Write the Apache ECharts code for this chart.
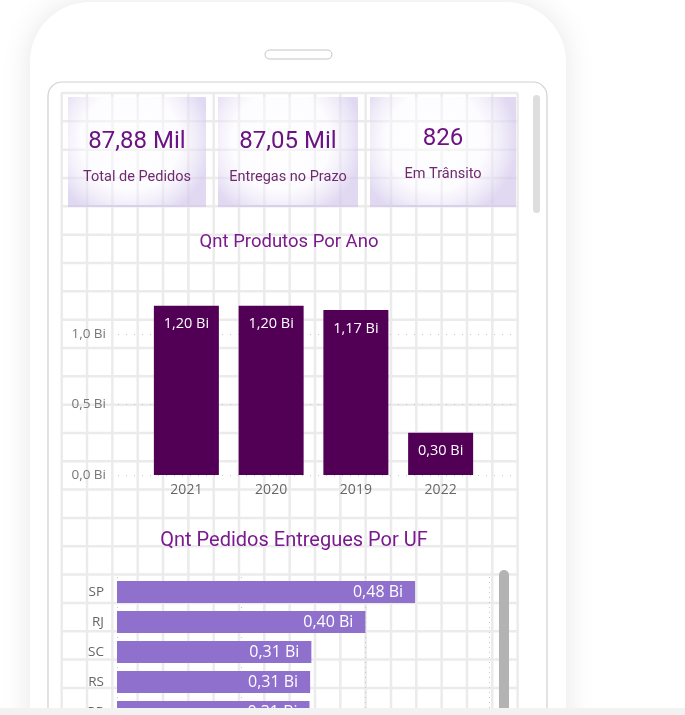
<!DOCTYPE html>
<html>
<head>
<meta charset="utf-8">
<style>
html,body{margin:0;padding:0;background:#fff;}
#main{width:685px;height:715px;}
</style>
<script src="https://cdn.jsdelivr.net/npm/echarts@6/dist/echarts.min.js"></script>
</head>
<body>
<div id="main"></div>
<script>
// ---- data ----
const kpiValues = ['87,88 Mil', '87,05 Mil', '826'];
const kpiLabels = ['Total de Pedidos', 'Entregas no Prazo', 'Em Trânsito'];
const anoTitle = 'Qnt Produtos Por Ano';
const anos = ['2021', '2020', '2019', '2022'];
const produtosBi = [1.20, 1.20, 1.17, 0.30];
const ufTitle = 'Qnt Pedidos Entregues Por UF';
const ufs = ['SP', 'RJ', 'SC', 'RS', 'PR'];
const pedidosBi = [0.48, 0.40, 0.313, 0.311, 0.31];

const fmtBi = v => v.toFixed(2).replace('.', ',') + ' Bi';
const axisFont = "'Open Sans', 'Noto Sans', sans-serif";
const titleFont = "Roboto, 'Noto Sans', sans-serif";

// ---- decorative layout ----
const g = [];
// phone body
g.push({type:'rect', z:0, shape:{x:30,y:2,width:536,height:820,r:60},
  style:{fill:'#fff', shadowBlur:30, shadowColor:'rgba(0,0,0,0.10)'}});
// speaker
g.push({type:'rect', z:1, shape:{x:265,y:50,width:67,height:9,r:4.5},
  style:{fill:'#fff', stroke:'#c4c4c4', lineWidth:1}});
// screen bezel
g.push({type:'rect', z:1, shape:{x:48,y:82,width:499,height:700,r:14},
  style:{fill:'#fff', stroke:'#d0d0d0', lineWidth:1.2}});
// background grid of canvas
for (let k = 0; k <= 18; k++) {
  const x = 61.7 + k * 25.33;
  g.push({type:'line', z:2, shape:{x1:x,y1:93,x2:x,y2:715}, style:{stroke:'#ebebeb', lineWidth:2.5}});
}
for (let k = 0; k <= 22; k++) {
  const y = 93 + k * 28.33;
  g.push({type:'line', z:2, shape:{x1:61,y1:y,x2:518,y2:y}, style:{stroke:'#ebebeb', lineWidth:2.5}});
}
// KPI cards
const cards = [[68,97,138,109],[218,97,140,109],[370,97,146,109]];
cards.forEach((c, i) => {
  g.push({type:'rect', z:3, shape:{x:c[0],y:c[1],width:c[2],height:c[3]},
    style:{fill:{type:'radial', x:0.45, y:0.4, r:0.75, colorStops:[
      {offset:0, color:'rgba(255,255,255,0.6)'},
      {offset:0.6, color:'rgba(250,248,254,0.45)'},
      {offset:1, color:'rgba(212,200,236,0.7)'}]}}});
  g.push({type:'line', z:3, shape:{x1:c[0],y1:c[1]+c[3],x2:c[0]+c[2],y2:c[1]+c[3]},
    style:{stroke:'#d9d0ea', lineWidth:2}});
  const cx = c[0] + c[2] / 2;
  g.push({type:'text', z:5, x:cx, y: i === 2 ? 139 : 142, style:{text:kpiValues[i], textAlign:'center', textVerticalAlign:'middle',
    font:"24px " + titleFont, fill:'#6c1283'}});
  g.push({type:'text', z:5, x:cx, y: i === 2 ? 174 : 177, style:{text:kpiLabels[i], textAlign:'center', textVerticalAlign:'middle',
    font:"14.5px " + titleFont, fill:'#6e2a6e'}});
});
// chart titles
g.push({type:'text', z:5, x:289, y:242, style:{text:anoTitle, textAlign:'center', textVerticalAlign:'middle',
  font:"18.5px " + titleFont, fill:'#7a1a8e'}});
g.push({type:'text', z:5, x:294, y:541, style:{text:ufTitle, textAlign:'center', textVerticalAlign:'middle',
  font:"20px " + titleFont, fill:'#7a1a8e'}});
// scrollbars
g.push({type:'rect', z:5, shape:{x:533,y:95,width:7,height:118,r:3.5}, style:{fill:'#dedede'}});
g.push({type:'rect', z:50, shape:{x:499,y:570,width:10,height:150,r:5}, style:{fill:'#b3b3b3'}});
// bottom band
g.push({type:'rect', z:100, shape:{x:0,y:708,width:685,height:7}, style:{fill:'#f2f2f2'}});

const chart = echarts.init(document.getElementById('main'), null, {renderer:'canvas'});
chart.setOption({
  animation: false,
  backgroundColor: '#fff',
  graphic: {elements: g},
  grid: [
    {left:118, top:334, width:394, height:141, z:3, outerBoundsMode:'none', containLabel:false},
    {left:144, top:334, width:339, height:141, z:3, outerBoundsMode:'none', containLabel:false},
    {left:117, top:577, width:372.6, height:150, z:3, outerBoundsMode:'none', containLabel:false}
  ],
  xAxis: [
    {gridIndex:0, type:'value', show:false, min:0, max:1},
    {gridIndex:1, type:'category', data:anos, z:6,
      axisLine:{show:false}, axisTick:{show:false},
      axisLabel:{color:'#666', fontSize:14, fontFamily:axisFont, margin:8}},
    {gridIndex:2, type:'value', min:0, max:0.6, interval:0.2, z:3,
      axisLine:{show:false}, axisTick:{show:false}, axisLabel:{show:false},
      splitLine:{show:true, lineStyle:{color:'#c8c8c8', type:[1,4], width:1}}}
  ],
  yAxis: [
    {gridIndex:0, type:'value', min:0, max:1, interval:0.5, z:6,
      axisLine:{show:false}, axisTick:{show:false},
      axisLabel:{color:'#777', fontSize:13.5, fontFamily:axisFont, margin:12,
        formatter: v => v.toFixed(1).replace('.', ',') + ' Bi'},
      splitLine:{show:true, lineStyle:{color:'#c4c4c4', type:[1,7], width:1.2}}},
    {gridIndex:1, type:'value', min:0, max:1, show:false},
    {gridIndex:2, type:'category', data:ufs, inverse:true, z:6,
      axisLine:{show:false}, axisTick:{show:false},
      axisLabel:{color:'#666', fontSize:13.5, fontFamily:axisFont, margin:13}}
  ],
  series: [
    {type:'bar', xAxisIndex:1, yAxisIndex:1, data:produtosBi, barWidth:65, clip:false, z:10,
      itemStyle:{color:'#510055'},
      label:{show:true, position:'insideTop', distance:11, color:'#fff', fontSize:14.5,
        fontFamily:axisFont, formatter: p => fmtBi(p.value)}},
    {type:'bar', xAxisIndex:2, yAxisIndex:2, data:pedidosBi, barWidth:22, z:10,
      itemStyle:{color:'#8f70cc'},
      label:{show:true, position:'insideRight', distance:12, color:'#fff', fontSize:16,
        fontFamily:axisFont, formatter: p => fmtBi(p.value)}}
  ]
});
</script>
</body>
</html>
